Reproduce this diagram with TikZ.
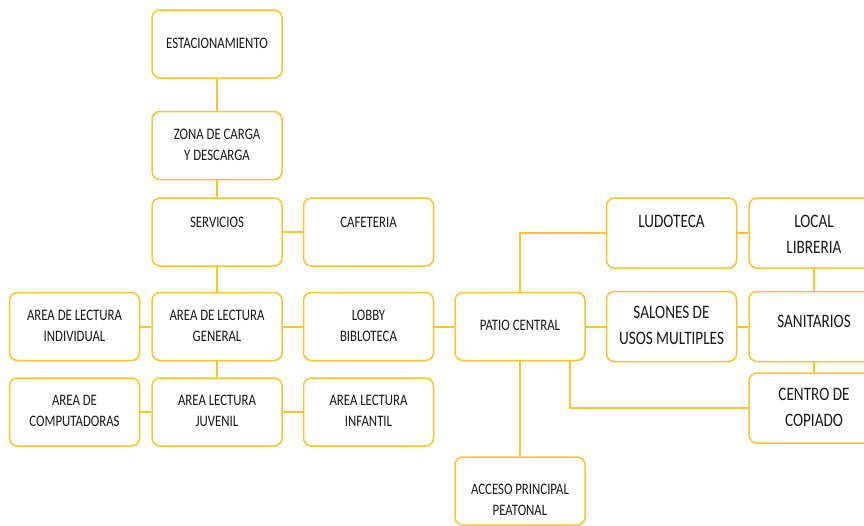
\documentclass[tikz,border=0pt]{standalone}
\usepackage{fontspec}
\setmainfont{Carlito}[FakeStretch=0.8]
\usepackage{tikz}
\usetikzlibrary{positioning}
\usetikzlibrary{shadows}
\definecolor{gold}{RGB}{252,196,40}
\renewcommand{\arraystretch}{1.1}

\begin{document}
\begin{tikzpicture}[x=1pt, y=-1pt, node distance=20pt,
  area/.style={draw=gold, line width=1.5pt, rounded corners=8pt, fill=white,
    minimum width=130pt, minimum height=68pt, inner sep=0pt, text=black!90,
    font=\fontsize{16}{19}\selectfont,
    drop shadow={opacity=0.12, shadow xshift=1pt, shadow yshift=-1pt}},
  big/.style={area, minimum height=70pt, font=\fontsize{19}{24}\selectfont},
  link/.style={draw=gold, line width=2pt}]
\useasboundingbox (0,0) rectangle (864,525);
\node[area](est) at (217,44){\begin{tabular}{c}
ESTACIONAMIENTO
\end{tabular}};
\node[area](zona)[below=32pt of est]{\begin{tabular}{c}
ZONA DE CARGA \\
Y DESCARGA
\end{tabular}};
\node[area](serv)[below=17pt of zona]{\raisebox{9pt}[\height][\depth]{\begin{tabular}{c}
SERVICIOS
\end{tabular}}};
\node[area](caf)[right=of serv]{\raisebox{9pt}[\height][\depth]{\begin{tabular}{c}
CAFETERIA
\end{tabular}}};
\node[area](gen)[below=25pt of serv]{\begin{tabular}{c}
AREA DE LECTURA \\
GENERAL
\end{tabular}};
\node[area](ind)[left=11pt of gen]{\begin{tabular}{c}
AREA DE LECTURA \\
INDIVIDUAL
\end{tabular}};
\node[area](lobby)[right=of gen]{\begin{tabular}{c}
LOBBY \\
BIBLOTECA
\end{tabular}};
\node[area](juv)[below=16pt of gen]{\begin{tabular}{c}
AREA LECTURA \\
JUVENIL
\end{tabular}};
\node[area](comp)[left=11pt of juv]{\begin{tabular}{c}
AREA DE \\
COMPUTADORAS
\end{tabular}};
\node[area](inf)[right=of juv]{\begin{tabular}{c}
AREA LECTURA \\
INFANTIL
\end{tabular}};
\node[area](patio)[right=of lobby]{\begin{tabular}{c}
PATIO CENTRAL
\end{tabular}};
\node[big](salon)[right=of patio]{\begin{tabular}{c}
SALONES DE \\
USOS MULTIPLES
\end{tabular}};
\node[big](sanit)[right=11pt of salon]{\raisebox{4pt}[\height][\depth]{\begin{tabular}{c}
SANITARIOS
\end{tabular}}};
\node[big](ludo)[above=22pt of salon]{\raisebox{11pt}[\height][\depth]{\begin{tabular}{c}
LUDOTECA
\end{tabular}}};
\node[big](local)[right=11pt of ludo]{\raisebox{-2pt}[\height][\depth]{\begin{tabular}{c}
LOCAL \\
LIBRERIA
\end{tabular}}};
\node[big](centro)[below=10pt of sanit]{\begin{tabular}{c}
CENTRO DE \\
COPIADO
\end{tabular}};
\node[area](acceso)[below=95pt of patio]{\raisebox{-10pt}[\height][\depth]{\begin{tabular}{c}
ACCESO PRINCIPAL \\
PEATONAL
\end{tabular}}};
\draw[link](est)--(zona);
\draw[link](zona)--(serv);
\draw[link](serv)--(caf);
\draw[link](serv)--(gen);
\draw[link](gen)--(ind);
\draw[link](gen)--(lobby);
\draw[link](gen)--(juv);
\draw[link](juv)--(comp);
\draw[link](juv)--(inf);
\draw[link](lobby)--(patio);
\draw[link](patio)|-(ludo);
\draw[link](patio)--(salon);
\draw[link](patio)--(acceso);
\draw[link]([xshift=50pt]patio.south)|-(centro);
\draw[link](ludo)--(local);
\draw[link](local)--(sanit);
\draw[link](salon)--(sanit);
\draw[link](sanit)--(centro);
\end{tikzpicture}
\end{document}
